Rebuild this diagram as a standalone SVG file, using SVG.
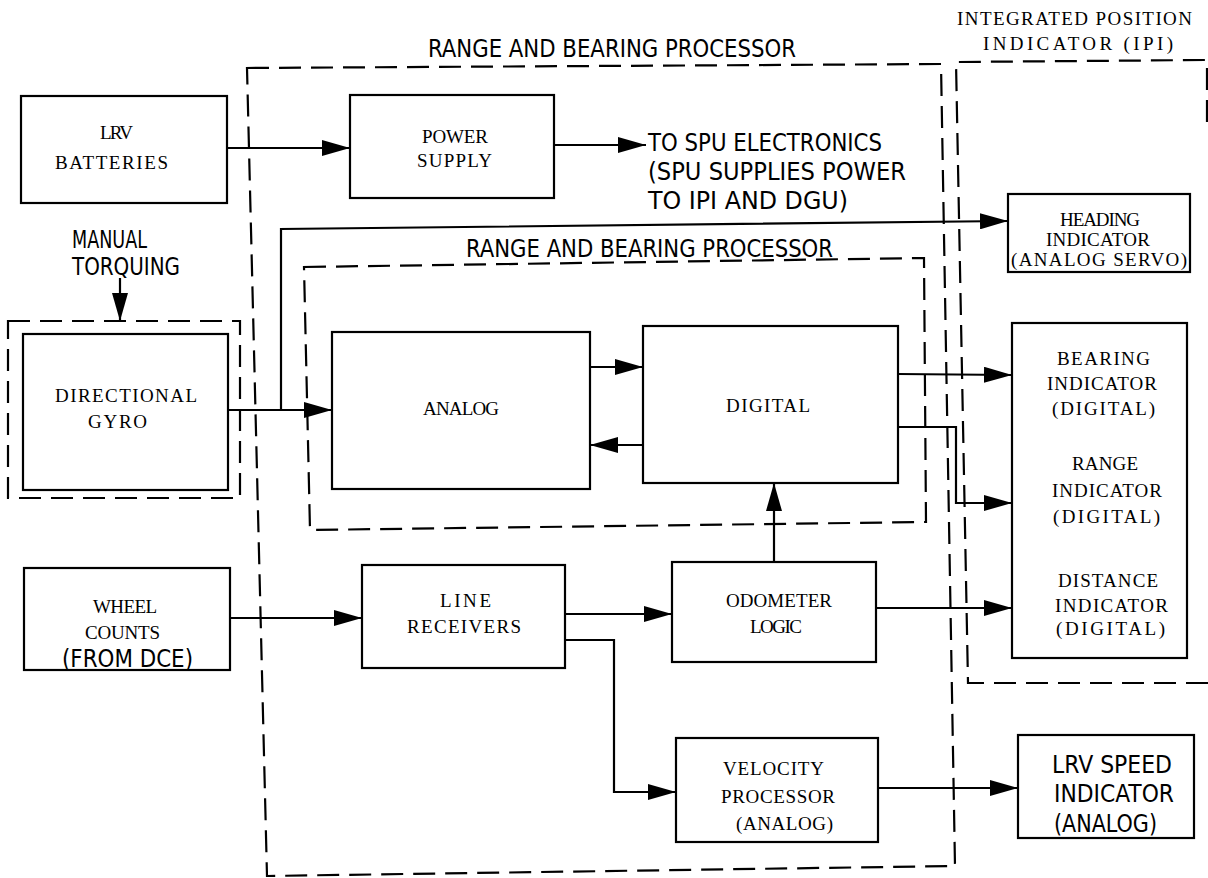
<svg xmlns="http://www.w3.org/2000/svg" width="1208" height="878" viewBox="0 0 1208 878">
<style>
.box{fill:none;stroke:#000;stroke-width:2.2}
.dash{fill:none;stroke:#000;stroke-width:2.2;stroke-dasharray:22 10}
.ln{fill:none;stroke:#000;stroke-width:2.2}
.arr{marker-end:url(#ah)}
.s{font-family:"Liberation Serif","DejaVu Serif",serif;font-size:19px;fill:#000}
.h{font-family:"Liberation Sans Narrow","DejaVu Sans Condensed","Liberation Sans",sans-serif;font-size:25px;fill:#000}
</style>
<defs>
<marker id="ah" markerUnits="userSpaceOnUse" markerWidth="30" markerHeight="16" refX="28" refY="8" orient="auto">
<path d="M0,0 L28,8 L0,16 Z" fill="#000"/>
</marker>
</defs>
<rect width="1208" height="878" fill="#fff"/>

<g id="frames">
<path id="rbp-outer" class="dash" d="M247,68 L941,64 L955,866 L267,876 Z"/>
<path id="rbp-inner" class="dash" d="M304,267 L924,258 L926,522 L310,530 Z"/>
<path id="ipi-frame" class="dash" d="M1208,683 L968,683 L956,62 L1207,60 L1207,125"/>
<path id="gyro-frame" class="dash" d="M8,321 L240,321 L240,498 L8,498 Z"/>
<text class="h" x="428" y="57" textLength="368" lengthAdjust="spacingAndGlyphs">RANGE AND BEARING PROCESSOR</text>
<text class="h" x="466" y="257" textLength="367" lengthAdjust="spacingAndGlyphs">RANGE AND BEARING PROCESSOR</text>
<text class="s" x="957" y="25" textLength="235" font-size="18">INTEGRATED POSITION</text>
<text class="s" x="983" y="50" textLength="190" font-size="18">INDICATOR (IPI)</text>
</g>

<g id="lrv-batteries">
<rect class="box" x="21" y="96" width="206" height="107"/>
<text class="s" x="100" y="139" textLength="33">LRV</text>
<text class="s" x="55" y="169" textLength="113">BATTERIES</text>
</g>

<g id="power-supply">
<rect class="box" x="350" y="95" width="204" height="103"/>
<text class="s" x="422" y="143" textLength="66">POWER</text>
<text class="s" x="417" y="167" textLength="75">SUPPLY</text>
</g>

<g id="spu-note">
<text class="h" x="648" y="151" textLength="234" lengthAdjust="spacingAndGlyphs">TO SPU ELECTRONICS</text>
<text class="h" x="648" y="180" textLength="258" lengthAdjust="spacingAndGlyphs">(SPU SUPPLIES POWER</text>
<text class="h" x="648" y="209" textLength="200" lengthAdjust="spacingAndGlyphs">TO IPI AND DGU)</text>
</g>

<g id="manual-torquing">
<text class="h" x="72" y="248" textLength="75" lengthAdjust="spacingAndGlyphs" font-size="23">MANUAL</text>
<text class="h" x="72" y="275" textLength="108" lengthAdjust="spacingAndGlyphs" font-size="23">TORQUING</text>
</g>

<g id="directional-gyro">
<rect class="box" x="23" y="334" width="205" height="156"/>
<text class="s" x="55" y="402" textLength="142">DIRECTIONAL</text>
<text class="s" x="88" y="428" textLength="59">GYRO</text>
</g>

<g id="heading-indicator">
<rect class="box" x="1008" y="194" width="182" height="78"/>
<text class="s" x="1060" y="226" textLength="80" font-size="15">HEADING</text>
<text class="s" x="1046" y="246" textLength="104" font-size="15">INDICATOR</text>
<text class="s" x="1011" y="266" textLength="176" font-size="15">(ANALOG SERVO)</text>
</g>

<g id="analog">
<rect class="box" x="332" y="332" width="258" height="157"/>
<text class="s" x="423" y="415" textLength="76">ANALOG</text>
</g>

<g id="digital">
<rect class="box" x="643" y="326" width="255" height="157"/>
<text class="s" x="726" y="412" textLength="84">DIGITAL</text>
</g>

<g id="indicators">
<rect class="box" x="1012" y="323" width="175" height="335"/>
<text class="s" x="1057" y="365" textLength="93">BEARING</text>
<text class="s" x="1047" y="390" textLength="110">INDICATOR</text>
<text class="s" x="1052" y="415" textLength="103">(DIGITAL)</text>
<text class="s" x="1072" y="470" textLength="66">RANGE</text>
<text class="s" x="1052" y="497" textLength="110">INDICATOR</text>
<text class="s" x="1053" y="523" textLength="107">(DIGITAL)</text>
<text class="s" x="1058" y="587" textLength="100">DISTANCE</text>
<text class="s" x="1055" y="612" textLength="113">INDICATOR</text>
<text class="s" x="1056" y="635" textLength="109">(DIGITAL)</text>
</g>

<g id="wheel-counts">
<rect class="box" x="24" y="568" width="206" height="102"/>
<text class="s" x="93" y="613" textLength="64">WHEEL</text>
<text class="s" x="85" y="639" textLength="75">COUNTS</text>
<text class="h" x="62" y="667" textLength="131" lengthAdjust="spacingAndGlyphs" font-size="24">(FROM DCE)</text>
</g>

<g id="line-receivers">
<rect class="box" x="362" y="565" width="203" height="103"/>
<text class="s" x="440" y="607" textLength="51">LINE</text>
<text class="s" x="407" y="633" textLength="114">RECEIVERS</text>
</g>

<g id="odometer-logic">
<rect class="box" x="672" y="562" width="204" height="100"/>
<text class="s" x="726" y="607" textLength="106">ODOMETER</text>
<text class="s" x="750" y="633" textLength="52">LOGIC</text>
</g>

<g id="velocity-processor">
<rect class="box" x="676" y="738" width="202" height="104"/>
<text class="s" x="723" y="775" textLength="101">VELOCITY</text>
<text class="s" x="721" y="803" textLength="114">PROCESSOR</text>
<text class="s" x="736" y="830" textLength="97">(ANALOG)</text>
</g>

<g id="lrv-speed-indicator">
<rect class="box" x="1018" y="735" width="176" height="103"/>
<text class="h" x="1052" y="773" textLength="120" lengthAdjust="spacingAndGlyphs" font-size="26">LRV SPEED</text>
<text class="h" x="1054" y="802" textLength="120" lengthAdjust="spacingAndGlyphs" font-size="26">INDICATOR</text>
<text class="h" x="1054" y="832" textLength="103" lengthAdjust="spacingAndGlyphs" font-size="26">(ANALOG)</text>
</g>

<g id="connectors">
<path class="ln arr" d="M227,148 L350,148"/>
<path class="ln arr" d="M554,145 L646,145"/>
<path class="ln arr" d="M120,278 L120,321"/>
<path class="ln arr" d="M228,410 L332,410"/>
<path class="ln arr" d="M281,410 L281,229 L1008,221"/>
<path class="ln arr" d="M590,367 L643,367"/>
<path class="ln arr" d="M643,445 L590,445"/>
<path class="ln arr" d="M898,374 L1012,375"/>
<path class="ln arr" d="M898,427 L956,427 L956,503 L1012,503"/>
<path class="ln arr" d="M230,618 L362,618"/>
<path class="ln arr" d="M565,614 L672,614"/>
<path class="ln arr" d="M565,640 L614,640 L614,792 L676,792"/>
<path class="ln arr" d="M774,562 L774,483"/>
<path class="ln arr" d="M876,608 L1012,608"/>
<path class="ln arr" d="M878,788 L1018,788"/>
</g>
</svg>
